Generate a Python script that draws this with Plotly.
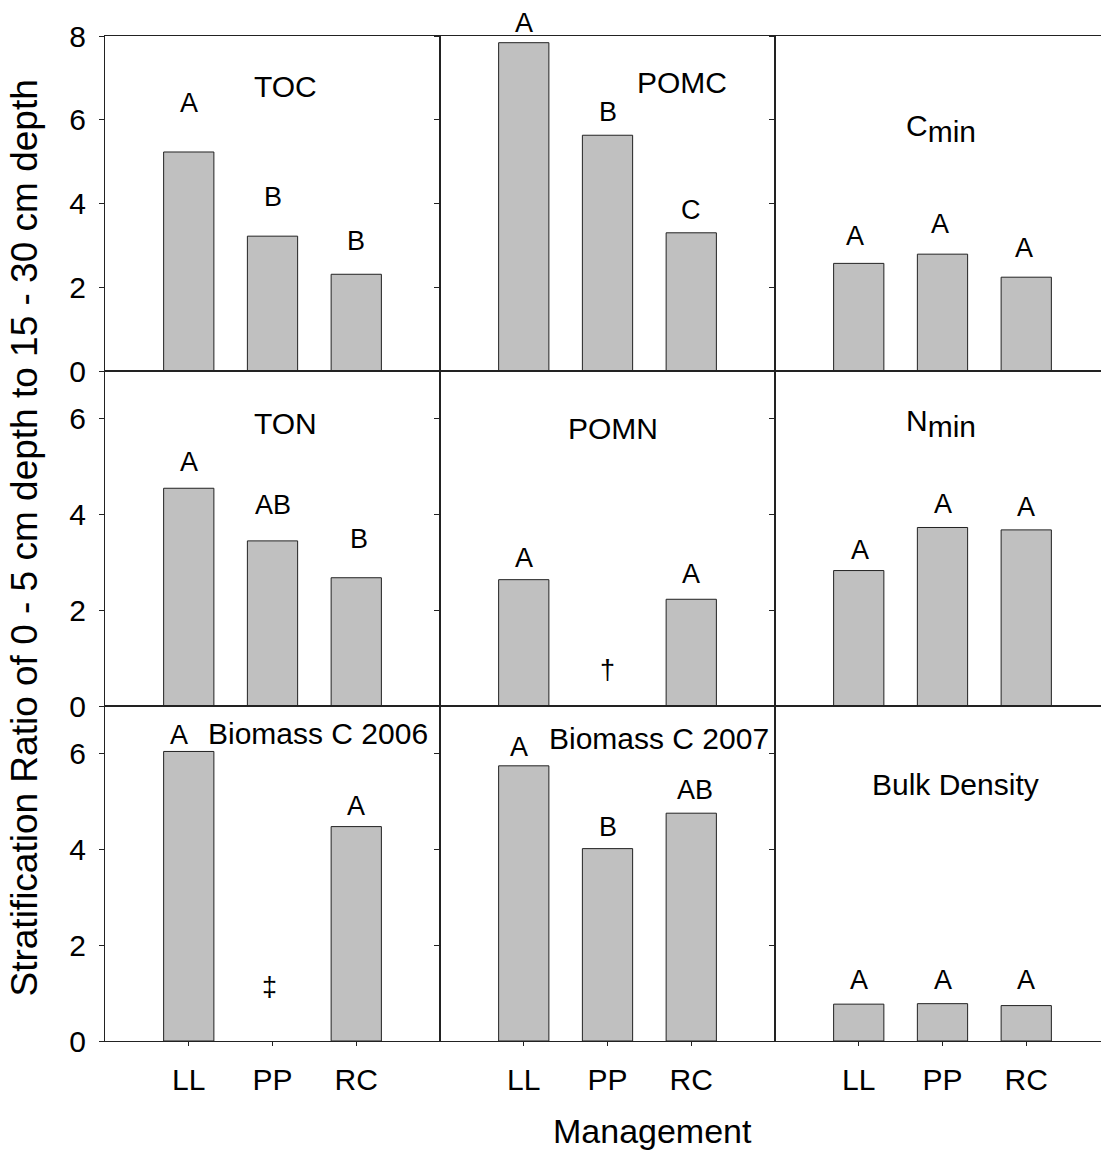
import plotly.graph_objects as go
from plotly.subplots import make_subplots

categories = ["LL", "PP", "RC"]

titles = ["TOC", "POMC", "C<sub><span style='font-size:30px'>min</span></sub>",
          "TON", "POMN", "N<sub><span style='font-size:30px'>min</span></sub>",
          "Biomass C 2006", "Biomass C 2007", "Bulk Density"]

toc = [5.23, 3.22, 2.31]
pomc = [7.84, 5.63, 3.30]
cmin = [2.57, 2.79, 2.24]
ton = [4.55, 3.45, 2.68]
pomn = [2.64, None, 2.23]
nmin = [2.83, 3.73, 3.68]
bio06 = [6.05, None, 4.48]
bio07 = [5.75, 4.02, 4.76]
bulk = [0.77, 0.78, 0.74]
values = [toc, pomc, cmin, ton, pomn, nmin, bio06, bio07, bulk]

letters = [["A", "B", "B"], ["A", "B", "C"], ["A", "A", "A"],
           ["A", "AB", "B"], ["A", "\u2020", "A"], ["A", "A", "A"],
           ["A", "\u2021", "A"], ["A", "B", "AB"], ["A", "A", "A"]]

# annotation placement (data units); POMC "A" sits just above the frame
letter_y = [[6.40, 4.16, 3.11], [8.00, 6.19, 3.84], [3.22, 3.51, 2.94],
            [5.10, 4.20, 3.48], [3.10, 0.75, 2.75], [3.26, 4.23, 4.16],
            [6.40, 1.12, 4.92], [6.14, 4.48, 5.25], [1.27, 1.27, 1.27]]
letter_shift = [[0, 0, 0], [13, 0, 0], [0, 0, 0],
                [0, 0, 0], [0, 0, 0], [0, 0, 0],
                [0, 0, 0], [0, 0, 0], [0, 0, 0]]
letter_dx = [[0, 0, 0], [0, 0, 0], [-0.04, -0.03, -0.03],
             [0, 0, 0.03], [0, 0, 0], [0.02, 0, 0],
             [-0.12, -0.04, 0], [-0.06, 0, 0.04], [0, 0, 0]]
title_x = [1.15, 1.89, 0.98, 1.15, 1.06, 0.98, 1.54, 1.62, 1.15]
title_y = [6.80, 6.90, 5.80, 5.91, 5.80, 5.91, 6.42, 6.33, 5.37]

row_ranges = [[0, 8], [0, 7], [0, 7]]
row_ticks = [[0, 2, 4, 6, 8], [0, 2, 4, 6], [0, 2, 4, 6]]

FONT = "Arial, Liberation Sans, sans-serif"
LINE = "#222222"

fig = make_subplots(rows=3, cols=3, horizontal_spacing=0, vertical_spacing=0,
                    column_widths=[335, 335, 326])

for i in range(9):
    r, c = i // 3 + 1, i % 3 + 1
    fig.add_trace(go.Bar(x=categories, y=values[i], width=0.6,
                         marker=dict(color="#c0c0c0", line=dict(color=LINE, width=1)),
                         showlegend=False, hoverinfo="skip"), row=r, col=c)
    xr = [-1, 3] if c < 3 else [-1, -1 + 4 * 326 / 335]
    fig.update_xaxes(type="category", range=xr, showline=True, mirror=True,
                     linecolor=LINE, linewidth=1, showgrid=False, zeroline=False,
                     ticks="outside" if r == 3 else "", ticklen=4, tickcolor=LINE,
                     showticklabels=(r == 3), ticklabelstandoff=8,
                     tickfont=dict(size=30, color="black", family=FONT),
                     row=r, col=c)
    fig.update_yaxes(range=row_ranges[r - 1], tickvals=row_ticks[r - 1],
                     showline=True, mirror=(c < 3), linecolor=LINE, linewidth=1,
                     showgrid=False, zeroline=False, ticks="outside", ticklen=5,
                     tickcolor=LINE, showticklabels=(c == 1), ticklabelstandoff=7,
                     tickfont=dict(size=30, color="black", family=FONT),
                     row=r, col=c)
    idx = "" if i == 0 else str(i + 1)
    xref, yref = "x" + idx, "y" + idx
    fig.add_annotation(x=title_x[i], y=title_y[i], xref=xref, yref=yref,
                       text=titles[i], showarrow=False,
                       font=dict(size=30, color="black", family=FONT))
    for k in range(3):
        fig.add_annotation(x=k + letter_dx[i][k], y=letter_y[i][k], xref=xref, yref=yref,
                           yshift=letter_shift[i][k],
                           text=letters[i][k], showarrow=False,
                           font=dict(size=27, color="black", family=FONT))

fig.add_annotation(x=0, y=0.5, xref="paper", yref="paper", xshift=-81,
                   xanchor="center", yanchor="middle",
                   text="Stratification Ratio of 0 - 5 cm depth to 15 - 30 cm depth",
                   textangle=-90, showarrow=False,
                   font=dict(size=37, color="black", family=FONT))
fig.add_annotation(x=(652 - 105) / 996, y=0, xref="paper", yref="paper", yshift=-90,
                   xanchor="center", yanchor="middle",
                   text="Management", showarrow=False,
                   font=dict(size=34, color="black", family=FONT))

fig.update_layout(width=1101, height=1153,
                  margin=dict(l=105, r=0, t=36, b=112, autoexpand=False),
                  plot_bgcolor="white", paper_bgcolor="white",
                  font=dict(family=FONT, color="black"), bargap=0.4)

fig.write_html("out.html", config={"displayModeBar": False},
               post_script="document.body.style.margin='0';document.body.style.overflow='hidden';")
